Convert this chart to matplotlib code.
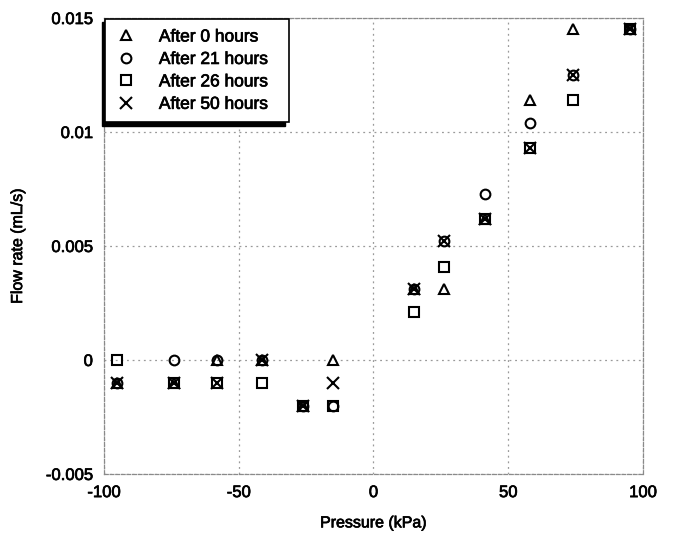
import matplotlib
matplotlib.use("Agg")
import matplotlib.pyplot as plt
import matplotlib.patheffects as pe
from matplotlib.patches import Rectangle
from matplotlib.ticker import FuncFormatter

plt.rcParams["font.family"] = ["Liberation Sans", "DejaVu Sans"]
plt.rcParams["axes.unicode_minus"] = False

# pressure (kPa) where flow was measured
pressure = [-95, -74, -58, -41.5, -26, -15, 15, 26, 41.5, 58, 74, 95]

# flow rate (mL/s) per run
after_0 = [-0.001, -0.001, 0, 0, -0.002, 0, 0.0031, 0.0031, 0.0062, 0.0114, 0.0145, 0.0145]
after_21 = [-0.001, 0, 0, 0, -0.002, -0.002, 0.0031, 0.0052, 0.0073, 0.0104, 0.0125, 0.0145]
after_26 = [0, -0.001, -0.001, -0.001, -0.002, -0.002, 0.0021, 0.0041, 0.0062, 0.0093, 0.0114, 0.0145]
after_50 = [-0.001, -0.001, -0.001, 0, -0.002, -0.001, 0.0031, 0.0052, 0.0062, 0.0093, 0.0125, 0.0145]

series = [
    ("After 0 hours", after_0, "^", 7.5),
    ("After 21 hours", after_21, "o", 7),
    ("After 26 hours", after_26, "s", 7.5),
    ("After 50 hours", after_50, "x", 8),
]

# scanned print looks a bit heavier than regular weight
heavy = [pe.withStroke(linewidth=0.5, foreground="black")]

fig = plt.figure(figsize=(6.74, 5.38), dpi=100)
ax = fig.add_axes([0.1543, 0.119, 0.7997, 0.8475])

for label, vals, marker, ms in series:
    ax.plot(pressure, vals, linestyle="none", marker=marker, markersize=ms,
            markerfacecolor="none", markeredgecolor="black",
            markeredgewidth=1.5, label=label + "  ")

ax.set_xlim(-100, 100)
ax.set_ylim(-0.005, 0.015)
ax.set_xticks([-100, -50, 0, 50, 100])
ax.set_yticks([-0.005, 0, 0.005, 0.01, 0.015])
ax.yaxis.set_major_formatter(FuncFormatter(lambda v, p: "%g" % round(v, 4)))
ax.tick_params(length=0, labelsize=12, pad=8)

ax.grid(True, color="#9a9a9a", linestyle=(0, (1.5, 3)), linewidth=0.9)
for sp in ax.spines.values():
    sp.set_color("#8a8a8a")
    sp.set_linestyle((0, (3, 1.5)))
    sp.set_linewidth(0.9)

ax.set_xlabel("Pressure (kPa)", fontsize=11.5, labelpad=11)
ax.set_ylabel("Flow rate (mL/s)", fontsize=11.5, labelpad=15)

leg = ax.legend(loc="upper left", bbox_to_anchor=(0.002, 0.998), fontsize=12.5,
                frameon=True, fancybox=False, edgecolor="black",
                handletextpad=1.3, labelspacing=0.42, borderpad=0.6,
                handlelength=1.2, borderaxespad=0)
leg.get_frame().set_linewidth(1.2)
leg.get_frame().set_alpha(1)
leg.set_zorder(6)

for t in (ax.get_xticklabels() + ax.get_yticklabels() + leg.get_texts()
          + [ax.xaxis.label, ax.yaxis.label]):
    t.set_path_effects(heavy)

# drop shadow, offset down and left
fig.canvas.draw()
bb = leg.get_window_extent().transformed(ax.transAxes.inverted())
dx = 3.5 / ax.bbox.width
dy = 3.5 / ax.bbox.height
ax.add_patch(Rectangle((bb.x0 - dx, bb.y0 - dy), bb.width, bb.height,
                       transform=ax.transAxes, facecolor="black",
                       edgecolor="black", zorder=5.5, clip_on=False))

fig.savefig("out.png", dpi=100)
